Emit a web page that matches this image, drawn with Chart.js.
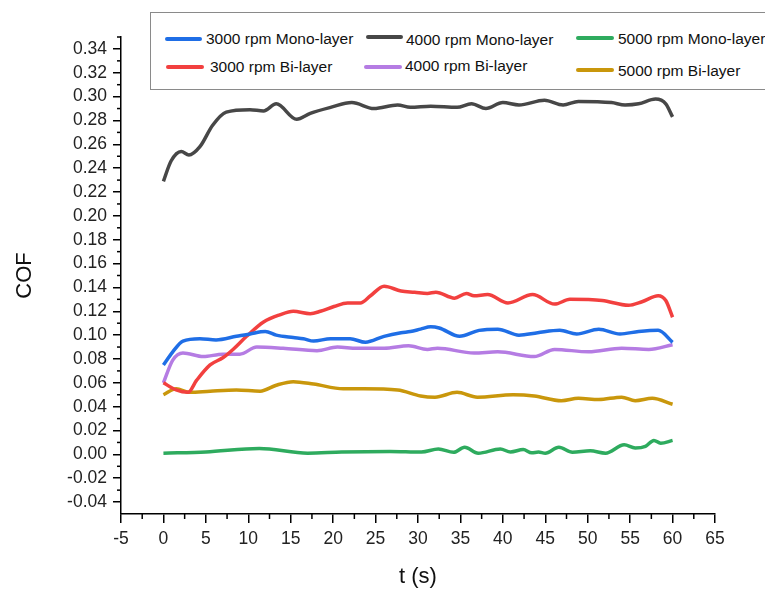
<!DOCTYPE html>
<html>
<head>
<meta charset="utf-8">
<script src="https://cdn.jsdelivr.net/npm/chart.js@4.4.1/dist/chart.umd.min.js"></script>
<style>
    html, body { margin: 0; padding: 0; background: #fff; }
    #wrap { position: relative; width: 765px; height: 590px; overflow: hidden; }
    #legend {
        position: absolute; left: 150px; top: 12px; width: 640px; height: 78px;
        border: 1.5px solid #8a8a8a; box-sizing: border-box; background: #fff;
    }
    .swatch { position: absolute; height: 4px; border-radius: 2px; }
    .label {
        position: absolute; font: 15.5px "Liberation Sans", Arial, sans-serif;
        color: #111; white-space: nowrap; line-height: 16px; height: 16px;
    }
</style>
</head>
<body>
<div id="wrap">
    <canvas id="cofChart" width="765" height="590"></canvas>
    <div id="legend"></div>
</div>
<script>
// x axis: time (s)
const xTickStep = 5;
const xMinor = [-2.5, 2.5, 7.5, 12.5, 17.5, 22.5, 27.5, 32.5, 37.5, 42.5, 47.5, 52.5, 57.5, 62.5];

// y axis: COF
const yTicks = [-0.04, -0.02, 0, 0.02, 0.04, 0.06, 0.08, 0.10, 0.12, 0.14, 0.16, 0.18,
                0.20, 0.22, 0.24, 0.26, 0.28, 0.30, 0.32, 0.34];
const yMinor = [-0.03, -0.01, 0.01, 0.03, 0.05, 0.07, 0.09, 0.11, 0.13, 0.15, 0.17,
                0.19, 0.21, 0.23, 0.25, 0.27, 0.29, 0.31, 0.33, 0.35];

// 3000 rpm Mono-layer
const mono3000T = [0, 1.1, 2.3, 4.3, 6.2, 8.6, 10.2, 12, 13.3, 15.3, 16.5, 17.7, 19.7, 22, 23.8, 26, 28, 29.1,
                   30.3, 31.5, 32.5, 34.9, 37.2, 39.4, 41.9, 44.1, 46.7, 48.7, 51.3, 53.8, 56, 58.3, 60];
const mono3000 = [0.075, 0.086, 0.095, 0.097, 0.096, 0.099, 0.101, 0.103, 0.100, 0.098, 0.097, 0.095, 0.097, 0.097, 0.094, 0.099, 0.102, 0.103,
                  0.105, 0.107, 0.106, 0.099, 0.104, 0.105, 0.100, 0.102, 0.104, 0.101, 0.105, 0.101, 0.103, 0.104, 0.094];

// 4000 rpm Mono-layer
const mono4000T = [0, 0.9, 2.1, 3, 4.3, 5.8, 7.4, 10.2, 11.8, 13.3, 15.7, 17.3, 19.7, 22.2, 24.8, 27.6, 29.1,
                   31.5, 34.6, 36.3, 38, 40, 41.9, 44.9, 47.1, 48.9, 52.8, 54.4, 56, 58, 59.2, 60];
const mono4000 = [0.229, 0.246, 0.254, 0.251, 0.258, 0.276, 0.287, 0.289, 0.288, 0.294, 0.281, 0.286, 0.291, 0.295, 0.290, 0.293, 0.291,
                  0.292, 0.291, 0.294, 0.290, 0.295, 0.293, 0.297, 0.293, 0.296, 0.295, 0.293, 0.294, 0.298, 0.294, 0.283];

// 5000 rpm Mono-layer
const mono5000T = [0, 5, 11.3, 17, 21, 26.7, 30.4, 32.4, 34.2, 35.5, 37.1, 39.7, 40.9, 42.4, 43.4, 44.2, 45,
                   46.6, 48.2, 50.3, 52.1, 54.3, 55.6, 56.8, 57.8, 58.6, 60];
const mono5000 = [0.001, 0.002, 0.005, 0.001, 0.002, 0.0025, 0.002, 0.0045, 0.0017, 0.006, 0.001, 0.0045, 0.002, 0.004, 0.0013, 0.002, 0.001,
                  0.006, 0.0017, 0.003, 0.001, 0.008, 0.0053, 0.0067, 0.0117, 0.0093, 0.0117];

// 3000 rpm Bi-layer
const bi3000T = [0, 1.5, 2.9, 3.9, 5.5, 7, 8.2, 9.8, 11.8, 13.7, 15.3, 17.3, 18.5, 20.1, 21.7, 23.2, 24.4, 26, 28, 29.6,
                 31.1, 32.1, 34.3, 35.7, 36.6, 38.2, 40.6, 43.5, 46.1, 47.9, 51.7, 54.8, 56.4, 58.3, 59.2, 60];
const bi3000 = [0.060, 0.054, 0.052, 0.062, 0.075, 0.081, 0.088, 0.099, 0.111, 0.117, 0.120, 0.118, 0.120, 0.124, 0.127, 0.127, 0.133, 0.141, 0.137, 0.136,
                0.135, 0.136, 0.131, 0.135, 0.133, 0.134, 0.127, 0.134, 0.126, 0.130, 0.129, 0.125, 0.128, 0.133, 0.129, 0.115];

// 4000 rpm Bi-layer
const bi4000T = [0, 1.1, 2.3, 4.7, 7, 9, 11, 14.1, 18.1, 20.5, 22.8, 26, 28.9, 31.1, 32.3, 36.6, 39.4, 43.7, 46.1, 50.1, 54, 57.2, 60];
const bi4000 = [0.060, 0.079, 0.085, 0.082, 0.084, 0.084, 0.090, 0.089, 0.087, 0.090, 0.089, 0.089, 0.091, 0.088, 0.089, 0.085, 0.086, 0.082, 0.088, 0.086, 0.089, 0.088, 0.092];

// 5000 rpm Bi-layer
const bi5000T = [0, 1.5, 3.1, 5.5, 8.6, 11.4, 13.3, 15.3, 17.7, 21.2, 23.6, 27.6, 30.3, 32, 34.6, 37, 41.2, 43.7,
                 46.9, 48.9, 51.3, 54, 55.6, 57.6, 60];
const bi5000 = [0.050, 0.055, 0.052, 0.053, 0.054, 0.053, 0.058, 0.061, 0.059, 0.055, 0.055, 0.054, 0.049, 0.048, 0.052, 0.048, 0.050, 0.049,
                0.045, 0.047, 0.046, 0.048, 0.045, 0.047, 0.042];

const seriesLabels = ['3000 rpm Mono-layer', '4000 rpm Mono-layer', '5000 rpm Mono-layer',
                      '3000 rpm Bi-layer', '4000 rpm Bi-layer', '5000 rpm Bi-layer'];
const seriesTimes = [mono3000T, mono4000T, mono5000T, bi3000T, bi4000T, bi5000T];
const seriesValues = [mono3000, mono4000, mono5000, bi3000, bi4000, bi5000];
const seriesColors = ['#1f6ee6', '#474747', '#2eab5e', '#f2403f', '#b57ce3', '#c9970c'];

// legend slot positions (page coords): swatch start/end, swatch y, text x, text y
const legendSlots = [
    [164, 201, 38, 205, 38],
    [365, 402, 36, 405, 39],
    [575, 613, 37, 617, 38],
    [165, 203, 66, 209, 66],
    [363, 401, 66, 404, 65],
    [575, 613, 69, 617, 70]
];

const font = '"Liberation Sans", Arial, sans-serif';

// small minor tick marks drawn on the axes
const minorTicks = {
    id: 'minorTicks',
    afterDraw(chart) {
        const { ctx, scales: { x, y } } = chart;
        ctx.save();
        ctx.strokeStyle = '#000';
        ctx.lineWidth = 1.5;
        xMinor.forEach(v => {
            const px = x.getPixelForValue(v);
            ctx.beginPath();
            ctx.moveTo(px, x.top);
            ctx.lineTo(px, x.top + 5);
            ctx.stroke();
        });
        yMinor.forEach(v => {
            const py = y.getPixelForValue(v);
            ctx.beginPath();
            ctx.moveTo(y.right, py);
            ctx.lineTo(y.right - 4, py);
            ctx.stroke();
        });
        ctx.restore();
    }
};

const datasets = seriesLabels.map((label, i) => ({
    label: label,
    data: seriesTimes[i].map((t, j) => ({ x: t, y: seriesValues[i][j] })),
    borderColor: seriesColors[i],
    backgroundColor: seriesColors[i],
    borderWidth: 3.5,
    pointRadius: 0,
    cubicInterpolationMode: 'monotone',
    fill: false
}));

const ctx = document.getElementById('cofChart').getContext('2d');
const chart = new Chart(ctx, {
    type: 'line',
    data: { datasets: datasets },
    options: {
        responsive: false,
        animation: false,
        layout: { padding: { top: 37, right: 50, left: 0, bottom: 0 } },
        plugins: {
            legend: { display: false },
            tooltip: { enabled: false }
        },
        scales: {
            x: {
                type: 'linear',
                min: -5,
                max: 65,
                ticks: {
                    stepSize: xTickStep,
                    autoSkip: false,
                    maxRotation: 0,
                    padding: 6,
                    color: '#222',
                    font: { family: font, size: 17.5 }
                },
                grid: { drawOnChartArea: false, tickLength: 9, color: '#000', lineWidth: 1.5 },
                border: { color: '#000', width: 1.5 },
                title: { display: true, text: 't (s)', color: '#111', font: { family: font, size: 22 }, padding: 0 },
                afterFit: scale => { scale.height = 76; }
            },
            y: {
                type: 'linear',
                min: -0.05,
                max: 0.35,
                afterBuildTicks: scale => { scale.ticks = yTicks.map(v => ({ value: v })); },
                ticks: {
                    padding: 6,
                    color: '#222',
                    font: { family: font, size: 17.5 },
                    callback: v => v.toFixed(2)
                },
                grid: { drawOnChartArea: false, tickLength: 8, color: '#000', lineWidth: 1.5 },
                border: { color: '#000', width: 1.5 },
                title: { display: true, text: 'COF', color: '#111', font: { family: font, size: 22 }, padding: { top: 12, bottom: 0 } },
                afterFit: scale => { scale.width = 121; }
            }
        }
    },
    plugins: [minorTicks]
});

// legend built from the chart's datasets
const legendEl = document.getElementById('legend');
chart.data.datasets.forEach((ds, i) => {
    const [x0, x1, sy, tx, ty] = legendSlots[i];
    const sw = document.createElement('span');
    sw.className = 'swatch';
    sw.style.left = (x0 - 150) + 'px';
    sw.style.width = (x1 - x0) + 'px';
    sw.style.top = (sy - 12 - 2) + 'px';
    sw.style.background = ds.borderColor;
    legendEl.appendChild(sw);
    const lbl = document.createElement('span');
    lbl.className = 'label';
    lbl.textContent = ds.label;
    lbl.style.left = (tx - 150) + 'px';
    lbl.style.top = (ty - 12 - 8) + 'px';
    legendEl.appendChild(lbl);
});
</script>
</body>
</html>
